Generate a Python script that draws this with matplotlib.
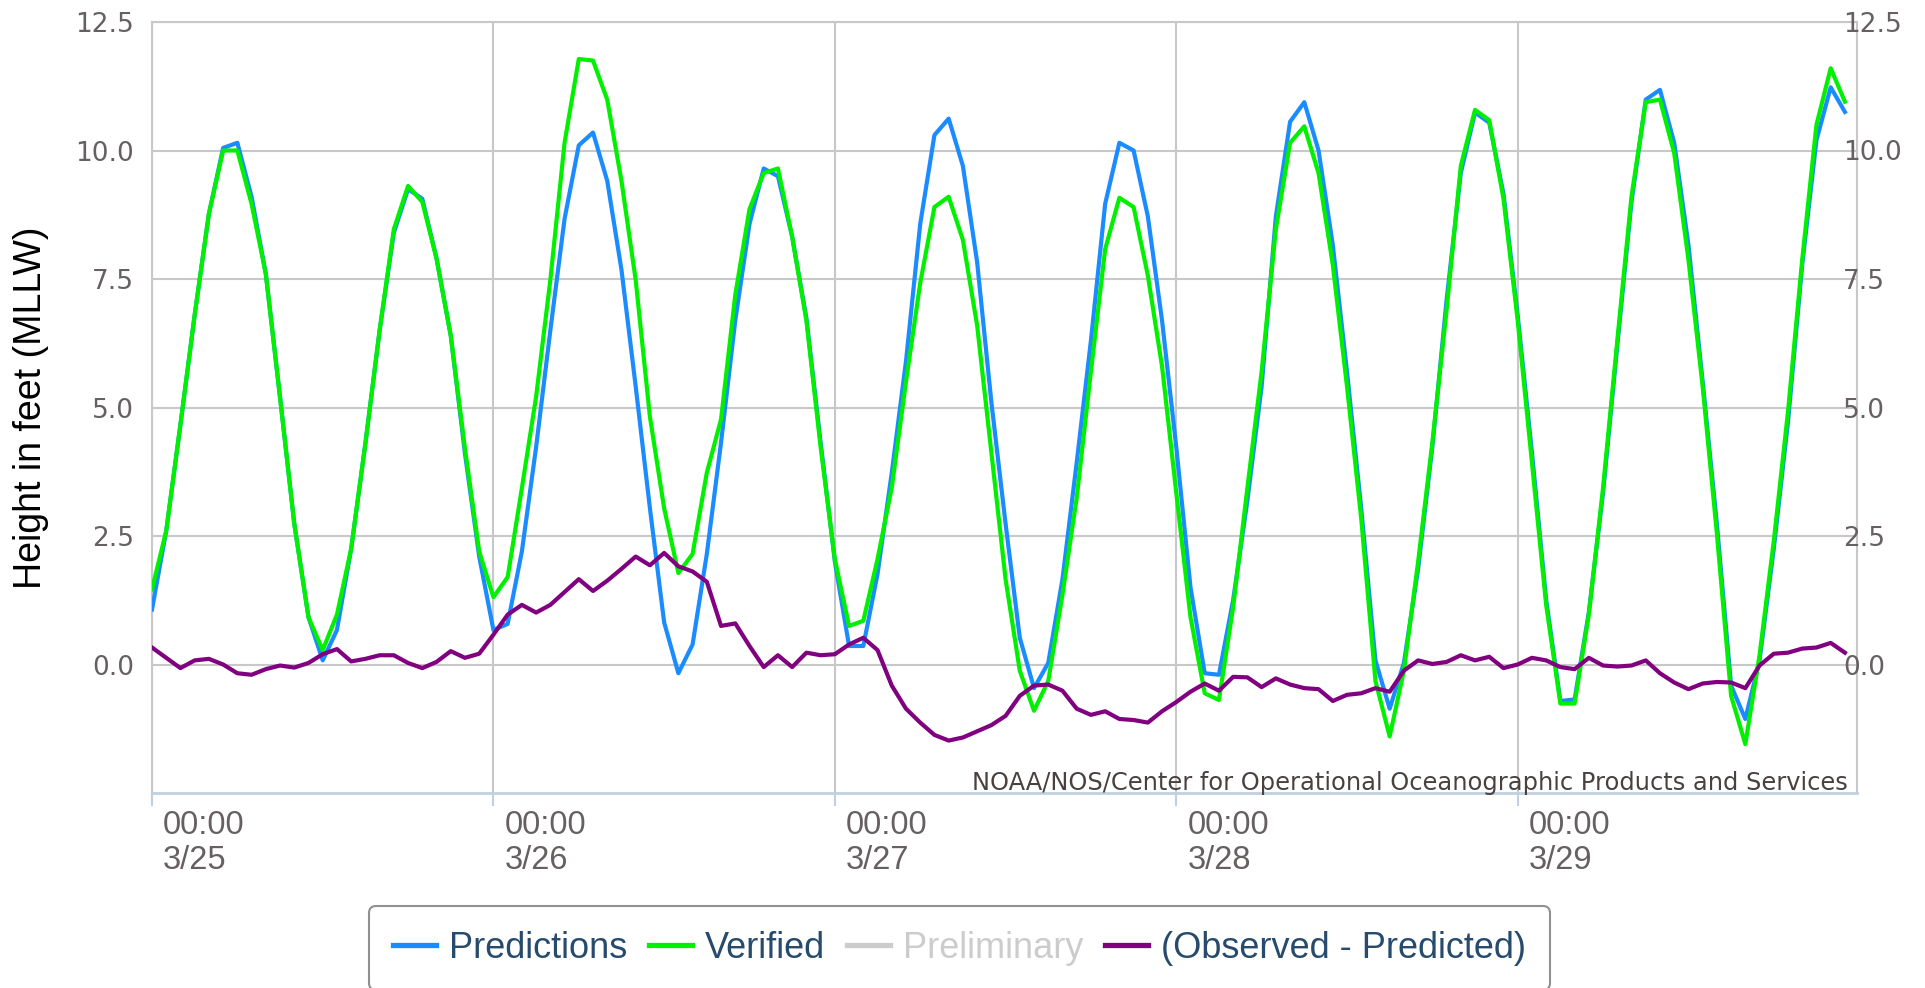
import matplotlib
matplotlib.use("Agg")
import matplotlib.pyplot as plt
import matplotlib.transforms as mtransforms
from matplotlib.font_manager import FontProperties
from matplotlib.lines import Line2D

# ---------------- data (hourly, hours since 3/25 00:00) ----------------
hours = list(range(120))

predictions = [
    1.07, 2.60, 4.67, 6.80, 8.77, 10.05, 10.15, 9.10, 7.60, 5.20,
    2.74, 0.92, 0.08, 0.67, 2.25, 4.30, 6.50, 8.40, 9.25, 9.06,
    7.90, 6.40, 4.10, 2.10, 0.67, 0.79, 2.20, 4.23, 6.50, 8.67,
    10.10, 10.35, 9.41, 7.68, 5.41, 3.04, 0.82, -0.17, 0.39, 2.15,
    4.32, 6.69, 8.57, 9.65, 9.50, 8.32, 6.74, 4.32, 2.00, 0.36,
    0.36, 1.76, 3.73, 5.90, 8.57, 10.30, 10.62, 9.70, 7.83, 5.11,
    2.74, 0.52, -0.46, 0.03, 1.66, 3.93, 6.30, 8.96, 10.15, 10.00,
    8.72, 6.69, 4.23, 1.50, -0.17, -0.20, 1.26, 3.19, 5.41, 8.72,
    10.56, 10.94, 10.00, 8.17, 5.70, 3.04, 0.08, -0.86, 0.03, 1.86,
    4.23, 7.09, 9.56, 10.74, 10.54, 9.16, 6.79, 4.13, 1.26, -0.71,
    -0.68, 1.02, 3.34, 6.20, 9.00, 10.99, 11.18, 10.15, 8.17, 5.51,
    2.74, -0.41, -1.06, 0.08, 2.25, 4.72, 7.78, 10.20, 11.23, 10.75,
]

verified = [
    1.46, 2.60, 4.67, 6.80, 8.77, 10.00, 10.00, 8.96, 7.60, 5.20,
    2.74, 0.92, 0.28, 0.97, 2.25, 4.30, 6.50, 8.47, 9.31, 9.00,
    7.90, 6.40, 4.20, 2.20, 1.31, 1.70, 3.43, 5.21, 7.48, 10.15,
    11.78, 11.75, 10.99, 9.41, 7.48, 4.82, 3.04, 1.78, 2.15, 3.73,
    4.77, 7.19, 8.86, 9.56, 9.65, 8.32, 6.69, 4.23, 2.05, 0.75,
    0.85, 2.05, 3.44, 5.50, 7.42, 8.90, 9.10, 8.26, 6.60, 4.13,
    1.66, -0.12, -0.90, -0.32, 1.36, 3.24, 5.70, 8.08, 9.08, 8.90,
    7.57, 5.80, 3.34, 0.92, -0.56, -0.69, 1.12, 3.44, 5.70, 8.47,
    10.15, 10.47, 9.56, 7.78, 5.41, 2.84, -0.32, -1.40, -0.12, 2.00,
    4.32, 6.89, 9.70, 10.79, 10.59, 9.06, 6.69, 3.93, 1.16, -0.76,
    -0.76, 0.97, 3.44, 6.30, 9.11, 10.94, 10.99, 9.95, 7.88, 5.41,
    2.55, -0.61, -1.55, 0.18, 2.40, 4.92, 7.88, 10.50, 11.60, 10.95,
]

preliminary = []

residual = [
    0.33, 0.13, -0.07, 0.08, 0.11, 0.00, -0.17, -0.20, -0.09, -0.02,
    -0.06, 0.03, 0.20, 0.30, 0.06, 0.11, 0.18, 0.18, 0.03, -0.07,
    0.05, 0.26, 0.13, 0.21, 0.58, 0.97, 1.16, 1.01, 1.16, 1.41,
    1.66, 1.43, 1.63, 1.86, 2.10, 1.93, 2.17, 1.91, 1.81, 1.61,
    0.75, 0.80, 0.36, -0.05, 0.18, -0.05, 0.23, 0.18, 0.20, 0.39,
    0.52, 0.28, -0.41, -0.86, -1.13, -1.37, -1.48, -1.42, -1.30, -1.18,
    -1.00, -0.61, -0.41, -0.39, -0.51, -0.86, -0.98, -0.91, -1.06, -1.08,
    -1.13, -0.91, -0.73, -0.53, -0.37, -0.51, -0.24, -0.25, -0.44, -0.27,
    -0.39, -0.46, -0.48, -0.71, -0.59, -0.56, -0.46, -0.53, -0.12, 0.08,
    0.01, 0.05, 0.18, 0.08, 0.15, -0.07, 0.00, 0.13, 0.08, -0.05,
    -0.09, 0.13, -0.02, -0.04, -0.02, 0.08, -0.17, -0.35, -0.48, -0.37,
    -0.34, -0.35, -0.46, -0.02, 0.21, 0.23, 0.31, 0.33, 0.42, 0.23,
]

day_ticks = [0, 24, 48, 72, 96]
day_labels = ["00:00\n3/25", "00:00\n3/26", "00:00\n3/27", "00:00\n3/28", "00:00\n3/29"]
y_ticks = [0.0, 2.5, 5.0, 7.5, 10.0, 12.5]
y_labels = ["0.0", "2.5", "5.0", "7.5", "10.0", "12.5"]

series_names = ["Predictions", "Verified", "Preliminary", "(Observed - Predicted)"]
series_colors = ["#1a8cff", "#00f000", "#cccccc", "#800080"]

# ---------------- figure ----------------
W, H = 1925, 988
fig = plt.figure(figsize=(W / 100, H / 100), dpi=100)
fig.patch.set_facecolor("white")

left, right, top, bottom = 152, 1857, 22, 793
ax = fig.add_axes([left / W, 1 - bottom / H, (right - left) / W, (bottom - top) / H])
ax.set_xlim(0, 119.85)
ax.set_ylim(-2.5, 12.5)

grid_c = "#c8c8c8"
ax.set_yticks(y_ticks)
ax.set_yticklabels(y_labels)
ax.set_xticks(day_ticks)
ax.set_xticklabels(day_labels)
ax.grid(True, color=grid_c, linewidth=1.5)
ax.set_axisbelow(True)

for s in ["left", "right", "top"]:
    ax.spines[s].set_color(grid_c)
    ax.spines[s].set_linewidth(1.5)
ax.spines["bottom"].set_color("#c0d0e0")
ax.spines["bottom"].set_linewidth(2.0)

ytick_font = FontProperties(family="DejaVu Sans", size=19)
ax.tick_params(axis="y", length=0, pad=13, labelcolor="#666060")
for lab in ax.get_yticklabels():
    lab.set_fontproperties(ytick_font)

xtick_font = FontProperties(family="Liberation Sans", size=23.5)
ax.tick_params(axis="x", length=9, width=1.5, color="#c0d0e0", pad=3, labelcolor="#666060")
offset = mtransforms.ScaledTranslation(11 / 100, 0, fig.dpi_scale_trans)
for lab in ax.get_xticklabels():
    lab.set_fontproperties(xtick_font)
    lab.set_horizontalalignment("left")
    lab.set_verticalalignment("top")
    lab.set_linespacing(1.2)
    lab.set_transform(lab.get_transform() + offset)

# right axis labels
ax2 = ax.twinx()
ax2.set_ylim(ax.get_ylim())
ax2.set_yticks(y_ticks)
ax2.set_yticklabels(y_labels)
ax2.tick_params(axis="y", length=0, pad=-10, labelcolor="#666060")
for lab in ax2.get_yticklabels():
    lab.set_fontproperties(ytick_font)
for s in ax2.spines.values():
    s.set_visible(False)

# ---------------- series ----------------
lw = 3.0
ax.plot(hours, predictions, color=series_colors[0], lw=lw, solid_joinstyle="round", zorder=3)
ax.plot(hours, verified, color=series_colors[1], lw=lw, solid_joinstyle="round", zorder=4)
ax.plot(preliminary, preliminary, color=series_colors[2], lw=lw, zorder=5)
ax.plot(hours, residual, color=series_colors[3], lw=lw, solid_joinstyle="round", zorder=6)

# ---------------- texts ----------------
fig.text(31 / W, 1 - 407.5 / H, "Height in feet (MLLW)", rotation=90, ha="center", va="center",
         fontsize=27, family="Liberation Sans", color="black")
fig.text(1848 / W, 1 - 783 / H, "NOAA/NOS/Center for Operational Oceanographic Products and Services",
         ha="right", va="center", fontsize=17.4, family="DejaVu Sans", color="#4a4040")

# ---------------- legend ----------------
handles = [Line2D([0], [0], color=c, lw=3.8) for c in series_colors]
leg = fig.legend(handles, series_names, ncol=4, loc="upper center",
                 bbox_to_anchor=(959.5 / W, 1 - 906 / H),
                 prop=FontProperties(family="Liberation Sans", size=26),
                 frameon=True, fancybox=True, edgecolor="#909090", facecolor="white",
                 framealpha=1, handlelength=1.2, handletextpad=0.35, columnspacing=0.6,
                 borderpad=0.68, borderaxespad=0)
leg.get_frame().set_linewidth(1.5)
for t, c in zip(leg.get_texts(), ["#274b6d", "#274b6d", "#cccccc", "#274b6d"]):
    t.set_color(c)

fig.savefig("out.png", dpi=100)
